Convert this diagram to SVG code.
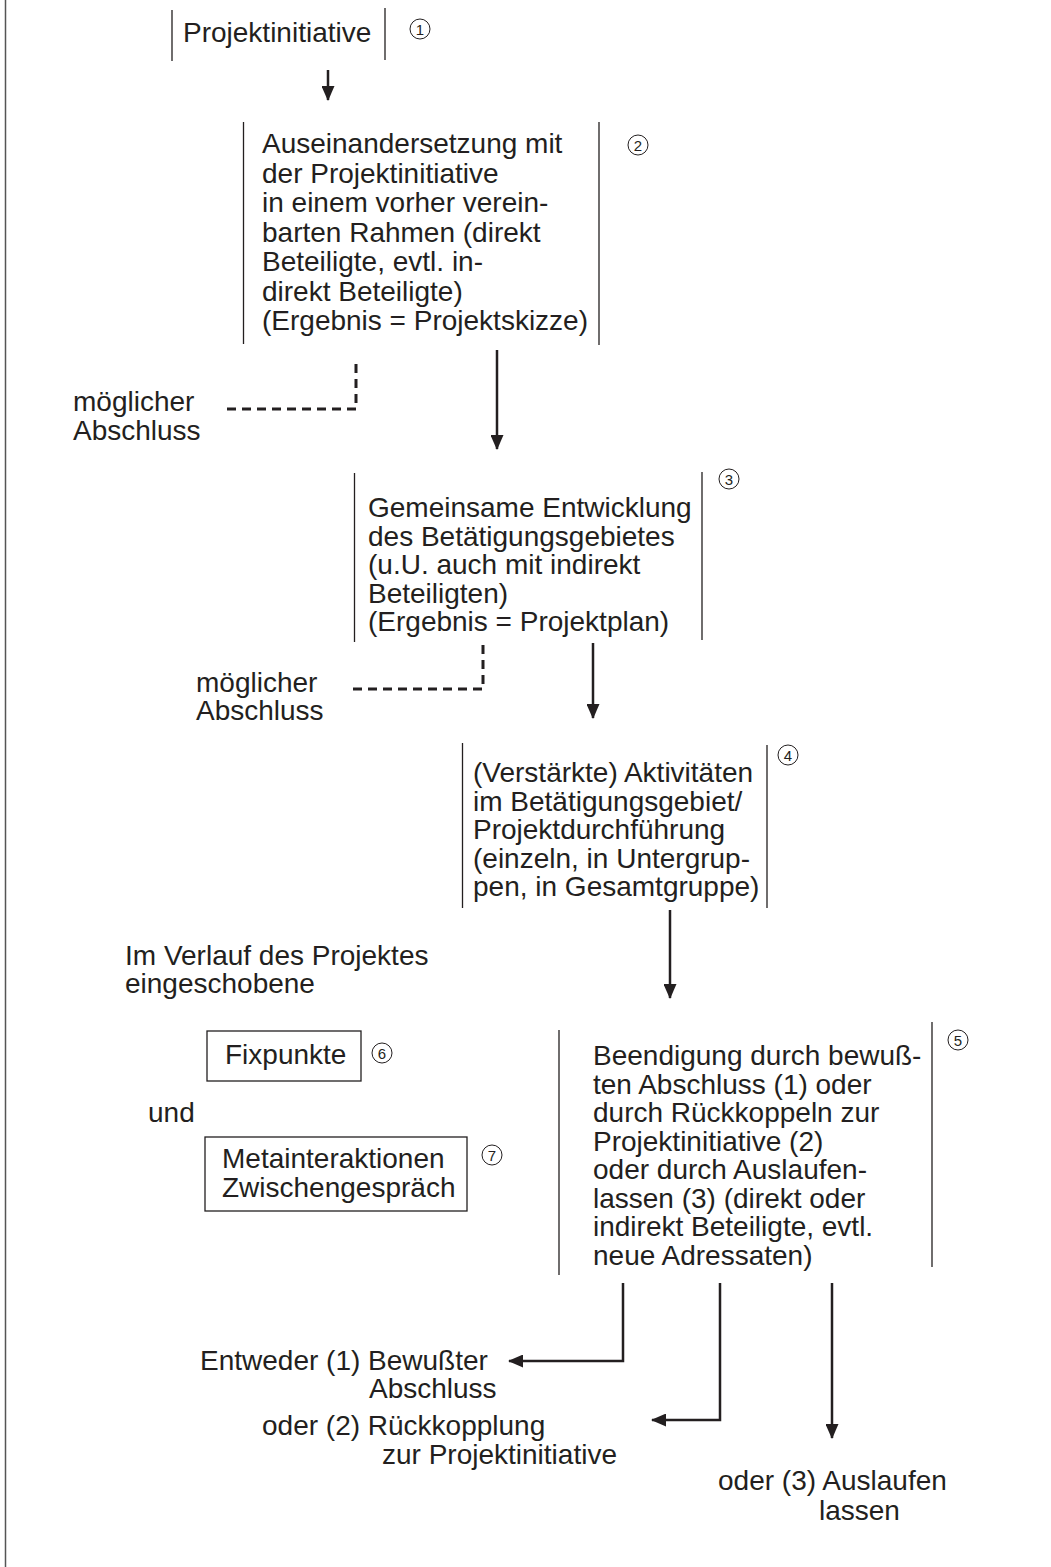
<svg xmlns="http://www.w3.org/2000/svg" width="1051" height="1567" viewBox="0 0 1051 1567">
<style>
text{font-family:"Liberation Sans",Arial,sans-serif;font-size:28px;fill:#231f20}
.bar{stroke:#231f20;stroke-width:1.3;fill:none}
.box{stroke:#231f20;stroke-width:1.3;fill:none}
.num circle{fill:none;stroke:#231f20;stroke-width:1}
.num text{font-size:15px;text-anchor:middle}
.arr{stroke:#231f20;stroke-width:2.5;fill:none}
.dash{stroke:#231f20;stroke-width:3;fill:none;stroke-dasharray:9 6}
</style>
<defs>
<marker id="ah" markerWidth="15" markerHeight="13" refX="14" refY="6.5" orient="auto" markerUnits="userSpaceOnUse">
<path d="M0,0 L15,6.5 L0,13 Z" fill="#231f20"/>
</marker>
</defs>
<line x1="5.5" y1="0" x2="5.5" y2="1567" stroke="#555" stroke-width="1.5"/>

<g id="n1">
<line class="bar" x1="172" y1="10" x2="172" y2="61"/>
<line class="bar" x1="385" y1="8" x2="385" y2="60"/>
<text x="183" y="42">Projektinitiative</text>
<g class="num"><circle cx="420" cy="29" r="10"/><text x="420" y="34.5">1</text></g>
</g>

<g id="n2">
<line class="bar" x1="243.5" y1="122" x2="243.5" y2="344"/>
<line class="bar" x1="599" y1="122" x2="599" y2="345"/>
<text x="262" y="153">Auseinandersetzung mit</text>
<text x="262" y="182.5">der Projektinitiative</text>
<text x="262" y="212">in einem vorher verein-</text>
<text x="262" y="241.5">barten Rahmen (direkt</text>
<text x="262" y="271">Beteiligte, evtl. in-</text>
<text x="262" y="300.5">direkt Beteiligte)</text>
<text x="262" y="330">(Ergebnis = Projektskizze)</text>
<g class="num"><circle cx="638" cy="145" r="10"/><text x="638" y="150.5">2</text></g>
</g>

<g id="n3">
<line class="bar" x1="354.5" y1="473" x2="354.5" y2="642"/>
<line class="bar" x1="702" y1="472" x2="702" y2="640"/>
<text x="368" y="517">Gemeinsame Entwicklung</text>
<text x="368" y="545.5">des Betätigungsgebietes</text>
<text x="368" y="574">(u.U. auch mit indirekt</text>
<text x="368" y="602.5">Beteiligten)</text>
<text x="368" y="631">(Ergebnis = Projektplan)</text>
<g class="num"><circle cx="729" cy="479" r="10"/><text x="729" y="484.5">3</text></g>
</g>

<g id="n4">
<line class="bar" x1="462.5" y1="743" x2="462.5" y2="908"/>
<line class="bar" x1="767" y1="745" x2="767" y2="908"/>
<text x="473" y="782">(Verstärkte) Aktivitäten</text>
<text x="473" y="810.5">im Betätigungsgebiet/</text>
<text x="473" y="839">Projektdurchführung</text>
<text x="473" y="867.5">(einzeln, in Untergrup-</text>
<text x="473" y="896">pen, in Gesamtgruppe)</text>
<g class="num"><circle cx="788" cy="755" r="10"/><text x="788" y="760.5">4</text></g>
</g>

<g id="n5">
<line class="bar" x1="559" y1="1030" x2="559" y2="1275"/>
<line class="bar" x1="932" y1="1022" x2="932" y2="1267"/>
<text x="593" y="1065">Beendigung durch bewuß-</text>
<text x="593" y="1093.5">ten Abschluss (1) oder</text>
<text x="593" y="1122">durch Rückkoppeln zur</text>
<text x="593" y="1150.5">Projektinitiative (2)</text>
<text x="593" y="1179">oder durch Auslaufen-</text>
<text x="593" y="1207.5">lassen (3) (direkt oder</text>
<text x="593" y="1236">indirekt Beteiligte, evtl.</text>
<text x="593" y="1264.5">neue Adressaten)</text>
<g class="num"><circle cx="958" cy="1040" r="10"/><text x="958" y="1045.5">5</text></g>
</g>

<g id="n6">
<rect class="box" x="207" y="1031" width="154" height="50"/>
<text x="225" y="1064">Fixpunkte</text>
<g class="num"><circle cx="382" cy="1053" r="10"/><text x="382" y="1058.5">6</text></g>
</g>

<g id="n7">
<rect class="box" x="205" y="1137" width="262" height="74"/>
<text x="222" y="1168">Metainteraktionen</text>
<text x="222" y="1197">Zwischengespräch</text>
<g class="num"><circle cx="492" cy="1155" r="10"/><text x="492" y="1160.5">7</text></g>
</g>

<g id="labels">
<text x="73" y="411">möglicher</text>
<text x="73" y="440">Abschluss</text>
<text x="196" y="692">möglicher</text>
<text x="196" y="720">Abschluss</text>
<text x="125" y="965">Im Verlauf des Projektes</text>
<text x="125" y="993">eingeschobene</text>
<text x="148" y="1122">und</text>
<text x="200" y="1370">Entweder (1) Bewußter</text>
<text x="369" y="1398">Abschluss</text>
<text x="262" y="1435">oder (2) Rückkopplung</text>
<text x="382" y="1464">zur Projektinitiative</text>
<text x="718" y="1490">oder (3) Auslaufen</text>
<text x="819" y="1520">lassen</text>
</g>

<g id="connectors">
<line class="arr" x1="328" y1="70" x2="328" y2="100" marker-end="url(#ah)"/>
<line class="arr" x1="497" y1="350" x2="497" y2="449" marker-end="url(#ah)"/>
<line class="arr" x1="593" y1="643" x2="593" y2="718" marker-end="url(#ah)"/>
<line class="arr" x1="670" y1="910" x2="670" y2="998" marker-end="url(#ah)"/>
<path class="dash" d="M356,364 V409 H225"/>
<path class="dash" d="M483,645 V689 H352"/>
<path class="arr" d="M623,1283 V1361 H509" marker-end="url(#ah)"/>
<path class="arr" d="M720,1283 V1420 H652" marker-end="url(#ah)"/>
<line class="arr" x1="832" y1="1283" x2="832" y2="1438" marker-end="url(#ah)"/>
</g>
</svg>
